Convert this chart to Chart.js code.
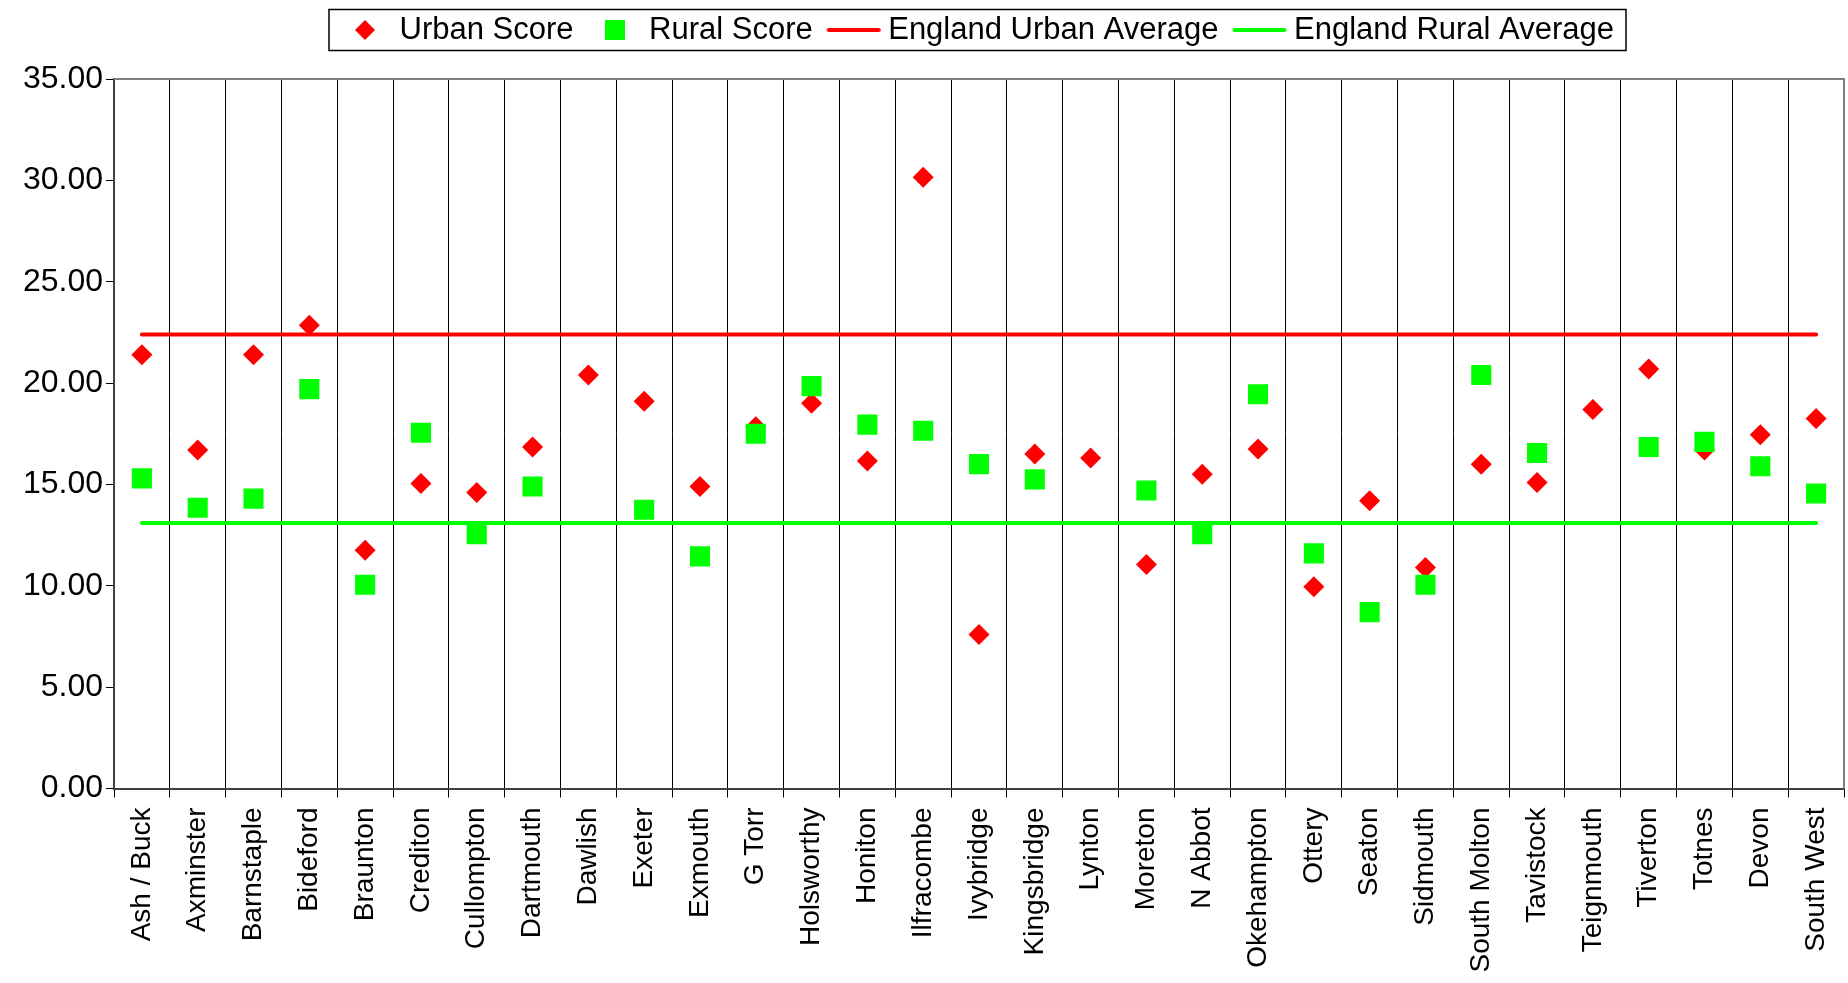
<!DOCTYPE html>
<html lang="en">
<head>
  <meta charset="UTF-8"/>
  <title>Urban and Rural Scores</title>
  <script src="https://cdn.jsdelivr.net/npm/chart.js"></script>
  <style>
    html, body { margin: 0; padding: 0; background: #fff; }
    #wrap { width: 1848px; height: 983px; }
  </style>
</head>
<body>
<div id="wrap"><canvas id="scoreChart" width="1848" height="983"></canvas></div>

<script>
/* ========== data ========== */
const towns = [
  "Ash / Buck", "Axminster", "Barnstaple", "Bideford", "Braunton", "Crediton",
  "Cullompton", "Dartmouth", "Dawlish", "Exeter", "Exmouth", "G Torr",
  "Holsworthy", "Honiton", "Ilfracombe", "Ivybridge", "Kingsbridge", "Lynton",
  "Moreton", "N Abbot", "Okehampton", "Ottery", "Seaton", "Sidmouth",
  "South Molton", "Tavistock", "Teignmouth", "Tiverton", "Totnes", "Devon", "South West"
];
const urbanScore = [
  21.4, 16.7, 21.4, 22.85, 11.75, 15.05,
  14.6, 16.85, 20.4, 19.1, 14.9, 17.85,
  19.0, 16.15, 30.15, 7.6, 16.5, 16.3,
  11.05, 15.5, 16.75, 9.95, 14.2, 10.9,
  16.0, 15.1, 18.7, 20.7, 16.7, 17.45, 18.25
];
const ruralScore = [
  15.3, 13.85, 14.3, 19.7, 10.05, 17.55,
  12.55, 14.9, null, 13.75, 11.45, 17.5,
  19.85, 17.95, 17.65, 16.0, 15.25, null,
  14.7, 12.55, 19.45, 11.6, 8.7, 10.05,
  20.4, 16.55, null, 16.85, 17.1, 15.9, 14.55
];
const englandUrbanAvg = [
  22.4, 22.4, 22.4, 22.4, 22.4, 22.4, 22.4, 22.4, 22.4, 22.4, 22.4,
  22.4, 22.4, 22.4, 22.4, 22.4, 22.4, 22.4, 22.4, 22.4, 22.4, 22.4,
  22.4, 22.4, 22.4, 22.4, 22.4, 22.4, 22.4, 22.4, 22.4
];
const englandRuralAvg = [
  13.1, 13.1, 13.1, 13.1, 13.1, 13.1, 13.1, 13.1, 13.1, 13.1, 13.1,
  13.1, 13.1, 13.1, 13.1, 13.1, 13.1, 13.1, 13.1, 13.1, 13.1, 13.1,
  13.1, 13.1, 13.1, 13.1, 13.1, 13.1, 13.1, 13.1, 13.1
];
const yMin = 0, yMax = 35, yStep = 5;

const RED = '#ff0000';
const GREEN = '#00ff00';
const FONT = 'Liberation Sans, Arial, sans-serif';

// small canvases used as legend symbols
function symbol(w, h, draw) {
  const c = document.createElement('canvas');
  c.width = w; c.height = h;
  draw(c.getContext('2d'));
  return c;
}
const legendSymbols = [
  symbol(22, 22, g => {
    g.fillStyle = RED;
    g.beginPath();
    g.moveTo(1, 11); g.lineTo(11, 1); g.lineTo(21, 11); g.lineTo(11, 21);
    g.closePath(); g.fill();
  }),
  symbol(20, 20, g => { g.fillStyle = GREEN; g.fillRect(0, 0, 20, 20); }),
  symbol(56, 6, g => {
    g.strokeStyle = RED; g.lineWidth = 4; g.lineCap = 'round';
    g.beginPath(); g.moveTo(3, 3); g.lineTo(53, 3); g.stroke();
  }),
  symbol(56, 6, g => {
    g.strokeStyle = GREEN; g.lineWidth = 4; g.lineCap = 'round';
    g.beginPath(); g.moveTo(3, 3); g.lineTo(53, 3); g.stroke();
  })
];

// legend: fixed height, shifted position + outline box
const legendTweaks = {
  id: 'legendTweaks',
  afterInit(chart) {
    const lg = chart.legend;
    const fit = lg.fit;
    lg.fit = function() { fit.call(this); this.height = 79; };
  },
  afterLayout(chart) {
    const lg = chart.legend;
    lg.left += 58; lg.right += 58;
    lg.top -= 7.5; lg.bottom -= 7.5;
  },
  afterDraw(chart) {
    const boxes = chart.legend.legendHitBoxes;
    if (!boxes || !boxes.length) return;
    const left = Math.min(...boxes.map(b => b.left)) - 17;
    const right = Math.max(...boxes.map(b => b.left + b.width)) + 12;
    const ctx = chart.ctx;
    ctx.save();
    ctx.strokeStyle = '#000';
    ctx.lineWidth = 1.5;
    ctx.strokeRect(left, 9.5, right - left, 41);
    ctx.restore();
  }
};

// grey frame on top/right of plot
const plotFrame = {
  id: 'plotFrame',
  afterDraw(chart) {
    const a = chart.chartArea;
    const ctx = chart.ctx;
    ctx.save();
    ctx.strokeStyle = '#808080';
    ctx.lineWidth = 2;
    ctx.beginPath();
    ctx.moveTo(a.left, a.top);
    ctx.lineTo(a.right, a.top);
    ctx.lineTo(a.right, a.bottom);
    ctx.stroke();
    ctx.restore();
  }
};

const ctx = document.getElementById("scoreChart").getContext("2d");
new Chart(ctx, {
  type: 'line',
  data: {
    labels: towns,
    datasets: [
      {
        label: 'Urban Score',
        data: urbanScore,
        showLine: false,
        pointStyle: 'rectRot',
        pointRadius: 10.5,
        pointHoverRadius: 10.5,
        pointBorderWidth: 0,
        backgroundColor: RED,
        borderColor: RED,
        pointBackgroundColor: RED,
        order: 4
      },
      {
        label: 'Rural Score',
        data: ruralScore,
        showLine: false,
        pointStyle: 'rect',
        pointRadius: 14.2,
        pointHoverRadius: 14.2,
        pointBorderWidth: 0,
        backgroundColor: GREEN,
        borderColor: GREEN,
        pointBackgroundColor: GREEN,
        order: 3
      },
      {
        label: 'England Urban Average',
        data: englandUrbanAvg,
        borderColor: RED,
        backgroundColor: RED,
        borderWidth: 4,
        borderCapStyle: 'round',
        pointRadius: 0,
        order: 2
      },
      {
        label: 'England Rural Average',
        data: englandRuralAvg,
        borderColor: GREEN,
        backgroundColor: GREEN,
        borderWidth: 4,
        borderCapStyle: 'round',
        pointRadius: 0,
        order: 1
      }
    ]
  },
  options: {
    responsive: false,
    animation: false,
    layout: { autoPadding: false, padding: { top: 0, right: 4, bottom: 0, left: 0 } },
    plugins: {
      tooltip: { enabled: false },
      legend: {
        position: 'top',
        labels: {
          usePointStyle: true,
          pointStyleWidth: 38,
          boxHeight: 16,
          padding: 22,
          color: '#000',
          font: { family: FONT, size: 31 },
          sort: (a, b) => a.datasetIndex - b.datasetIndex,
          generateLabels(chart) {
            const items = Chart.defaults.plugins.legend.labels.generateLabels(chart);
            items.forEach(it => { it.pointStyle = legendSymbols[it.datasetIndex]; });
            return items;
          }
        }
      }
    },
    scales: {
      x: {
        offset: true,
        grid: {
          offset: true,
          color: '#000',
          lineWidth: 1,
          tickLength: 9,
          tickColor: '#000'
        },
        border: { color: '#404040', width: 2 },
        ticks: {
          autoSkip: false,
          minRotation: 90,
          maxRotation: 90,
          padding: 10,
          color: '#000',
          font: { family: FONT, size: 28 }
        },
        afterFit(scale) {
          scale.height = 194.5;
          scale.paddingLeft = 0;
          scale.paddingRight = 0;
        }
      },
      y: {
        min: yMin,
        max: yMax,
        grid: {
          drawOnChartArea: false,
          tickLength: 8,
          tickColor: '#000'
        },
        border: { color: '#404040', width: 2 },
        ticks: {
          stepSize: yStep,
          padding: 3,
          color: '#000',
          font: { family: FONT, size: 32 },
          callback: v => Number(v).toFixed(2)
        },
        afterFit(scale) {
          scale.width = 114;
        }
      }
    }
  },
  plugins: [legendTweaks, plotFrame]
});
</script>
</body>
</html>
